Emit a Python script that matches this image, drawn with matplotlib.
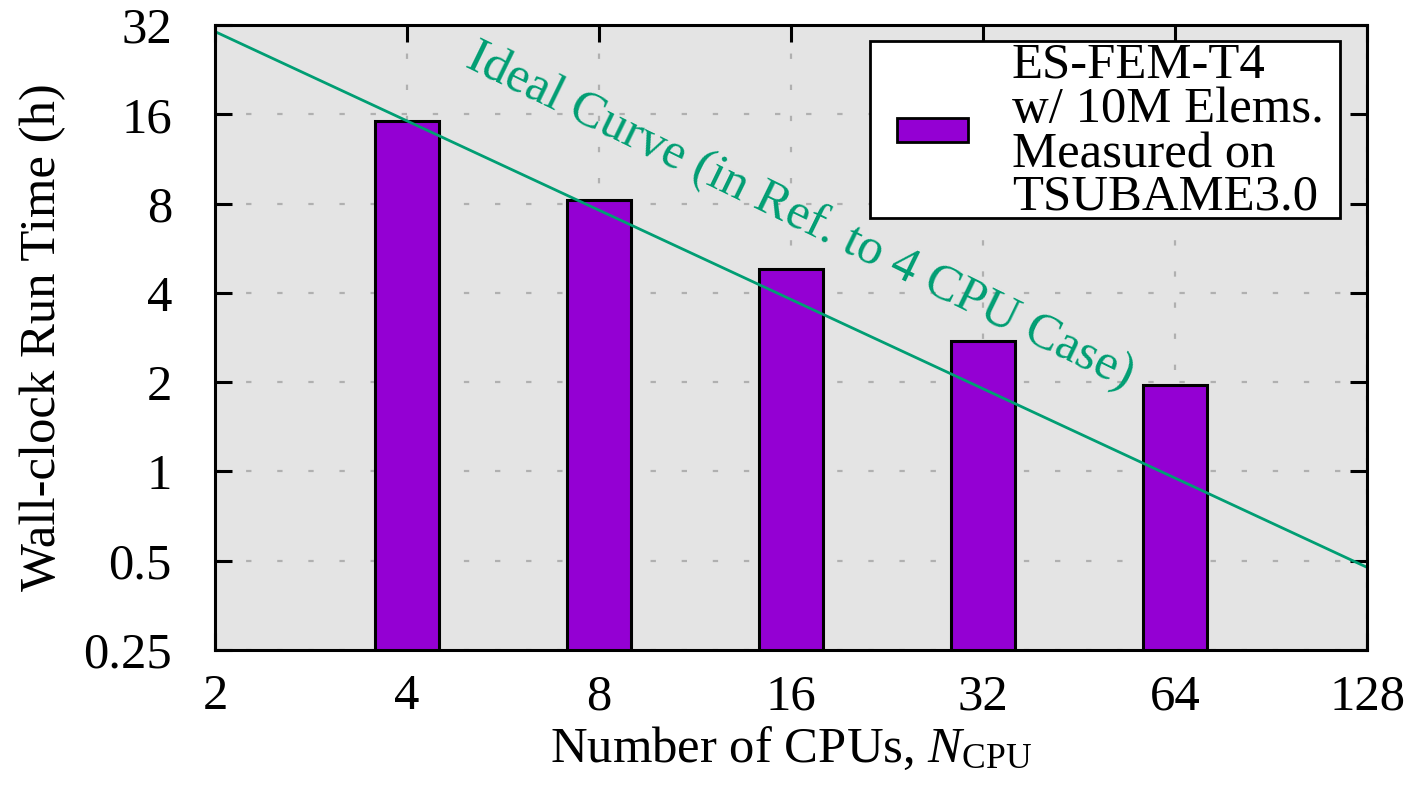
import matplotlib
matplotlib.use('Agg')
import matplotlib.pyplot as plt
import matplotlib.patches as mpatches
import numpy as np

# ── Measured run times (TSUBAME3.0, ES-FEM-T4, 10M elements) ──────────
cpus = [4, 8, 16, 32, 64]
run_time_h = [15.2, 8.2, 4.8, 2.75, 1.95]

x_ticks = [2, 4, 8, 16, 32, 64, 128]
y_ticks = [0.25, 0.5, 1, 2, 4, 8, 16, 32]
y_tick_labels = ['0.25', '0.5', '1', '2', '4', '8', '16', '32']

legend_lines = ['ES-FEM-T4', 'w/ 10M Elems.', 'Measured on', 'TSUBAME3.0']

# ideal scaling curve, referenced to the 4-CPU run
ideal_x = [2, 128]
ideal_y = [run_time_h[0] * cpus[0] / n for n in ideal_x]

plt.rcParams['font.family'] = ['Liberation Serif', 'DejaVu Serif']
plt.rcParams['mathtext.fontset'] = 'custom'
plt.rcParams['mathtext.rm'] = 'Liberation Serif'
plt.rcParams['mathtext.it'] = 'Liberation Serif:italic'

FS = 36.5
bar_color = '#9400d3'
ideal_color = '#009e73'

fig = plt.figure(figsize=(14.06, 7.86), dpi=100)
ax = fig.add_axes([215 / 1406, 1 - 650 / 786, 1152 / 1406, 625 / 786])
ax.set_facecolor('#e4e4e4')

ax.set_xscale('log', base=2)
ax.set_yscale('log', base=2)
ax.set_xlim(2, 128)
ax.set_ylim(0.25, 32)

# bars are 1/3 octave wide, centred on each CPU count
half = 2 ** (1 / 6)
lefts = [n / half for n in cpus]
widths = [n * half - n / half for n in cpus]
ax.bar(lefts, run_time_h, width=widths, bottom=0.01, align='edge',
       color=bar_color, edgecolor='black', linewidth=2.2, zorder=2)

ax.plot(ideal_x, ideal_y, color=ideal_color, linewidth=2.0, zorder=3)
ax.text(16.2, 6.63, 'Ideal Curve (in Ref. to 4 CPU Case)', fontsize=FS,
        color=ideal_color, rotation=-26, rotation_mode='anchor',
        ha='center', va='baseline', zorder=4)

# ── Axes, ticks and dotted grid ─────────────────────────────────────
ax.set_xticks(x_ticks)
ax.set_xticklabels([str(v) for v in x_ticks])
ax.set_yticks(y_ticks)
ax.set_yticklabels(y_tick_labels)
ax.minorticks_off()
ax.tick_params(which='major', direction='in', length=12, width=2.2,
               top=True, right=True, labelsize=FS, colors='black')
ax.tick_params(axis='y', pad=31)
ax.tick_params(axis='x', pad=17)

ax.grid(True, color='#b0b0b0', linewidth=1.6, linestyle=(0, (2.4, 11.6)),
        zorder=1)
ax.set_axisbelow(True)
for sp in ax.spines.values():
    sp.set_linewidth(2.2)
    sp.set_zorder(5)

ax.set_xlabel(r'Number of CPUs, $N_{\mathrm{CPU}}$', fontsize=FS, labelpad=4)
ax.set_ylabel('Wall-clock Run Time (h)', fontsize=FS, labelpad=12)

# ── Key box (top right, tight gnuplot-style frame) ───────────────────
ax.add_patch(mpatches.Rectangle((0.5686, 0.6912), 0.408, 0.2832,
                                transform=ax.transAxes, facecolor='white',
                                edgecolor='black', linewidth=2.0, zorder=6))
ax.add_patch(mpatches.Rectangle((0.592, 0.8128), 0.0616, 0.0384,
                                transform=ax.transAxes, facecolor=bar_color,
                                edgecolor='black', linewidth=2.0, zorder=7))
baselines = [0.9168, 0.8448, 0.7728, 0.704]
for line, yb in zip(legend_lines, baselines):
    ax.text(0.6918, yb, line, transform=ax.transAxes, fontsize=FS,
            ha='left', va='baseline', zorder=7)

fig.savefig('out.png', dpi=100)
plt.close(fig)
